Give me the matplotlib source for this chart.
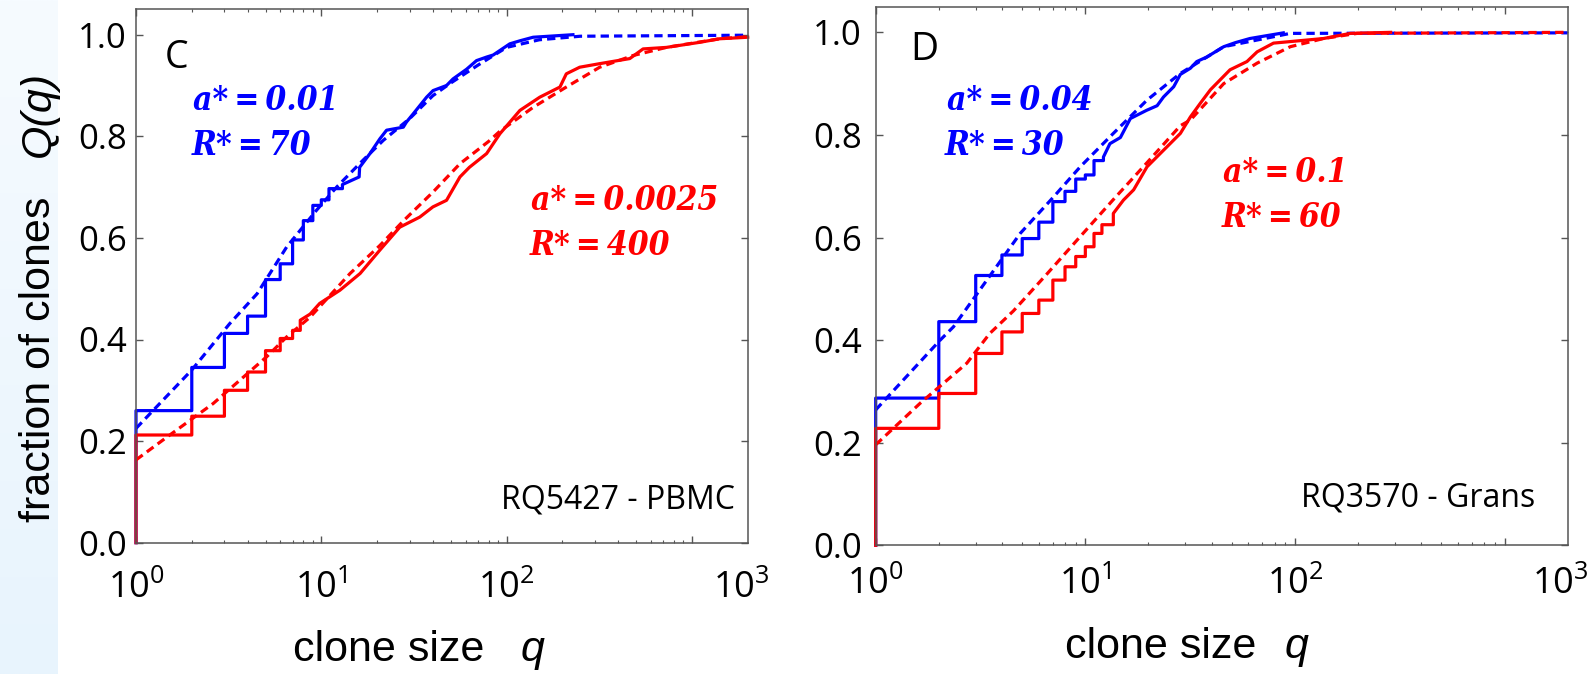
import numpy as np
import matplotlib
matplotlib.use("Agg")
import matplotlib.pyplot as plt
from matplotlib.colors import LinearSegmentedColormap
from matplotlib.ticker import FixedLocator, NullFormatter

plt.rcParams['font.family'] = ['Open Sans', 'DejaVu Sans']
plt.rcParams['mathtext.fontset'] = 'custom'
plt.rcParams['mathtext.rm'] = 'Open Sans'
plt.rcParams['mathtext.it'] = 'Open Sans:italic'
plt.rcParams['mathtext.bf'] = 'Open Sans:bold'

# ---------------- data ----------------
# Panel C (RQ5427 - PBMC): empirical Q(q) -- integer steps, then dense tail
c_blue_step_q = [1, 2, 3, 4, 5, 6, 7, 8, 9, 10, 11]
c_blue_step_Q = [0.26, 0.345, 0.412, 0.446, 0.518, 0.549, 0.596, 0.634, 0.664, 0.675, 0.697]
c_blue_tail_q = [13, 16, 16.1, 18.3, 20.7, 22.5, 27.7, 28.8, 31.3, 37, 40.1, 47.4, 51.4,
                 60.8, 68.8, 78, 84.6, 104, 118, 139, 228]
c_blue_tail_Q = [0.705, 0.72, 0.739, 0.766, 0.795, 0.812, 0.818, 0.828, 0.844, 0.877, 0.89,
                 0.9, 0.913, 0.932, 0.949, 0.956, 0.96, 0.982, 0.988, 0.995, 1.0]
c_blue_fit_q = [1, 2, 3.2, 4.5, 6.5, 9.4, 12.1, 16.8, 21.6, 30, 40, 50, 70, 100, 150, 250, 2000]
c_blue_fit_Q = [0.225, 0.34, 0.431, 0.49, 0.582, 0.654, 0.70, 0.753, 0.792, 0.835, 0.88,
                0.905, 0.94, 0.975, 0.99, 0.997, 0.999]

c_red_step_q = [1, 2, 3, 4, 5, 6, 7]
c_red_step_Q = [0.212, 0.249, 0.300, 0.336, 0.378, 0.402, 0.418]
c_red_tail_q = [7.7, 8.7, 9.8, 12.6, 16.2, 20.7, 26.5, 34, 40, 47.4, 56, 63, 78, 92, 118,
                151, 194, 210, 248, 318, 462, 545, 728, 1102, 1413, 2000]
c_red_tail_Q = [0.438, 0.45, 0.471, 0.497, 0.530, 0.576, 0.621, 0.641, 0.661, 0.674, 0.72,
                0.739, 0.766, 0.805, 0.851, 0.877, 0.897, 0.923, 0.936, 0.943, 0.953, 0.972,
                0.975, 0.985, 0.992, 0.995]
c_red_fit_q = [1, 1.47, 2.61, 5.07, 6.5, 8.7, 14.3, 20.7, 28, 40, 56, 80, 92, 139, 210, 318,
               481, 728, 1413, 2000]
c_red_fit_Q = [0.163, 0.208, 0.274, 0.366, 0.405, 0.444, 0.53, 0.585, 0.635, 0.69, 0.746,
               0.79, 0.81, 0.857, 0.897, 0.936, 0.959, 0.975, 0.992, 0.996]

# Panel D (RQ3570 - Grans)
d_blue_step_q = [1, 2, 3, 4, 5, 6, 7, 8, 9, 10, 11]
d_blue_step_Q = [0.287, 0.436, 0.526, 0.566, 0.598, 0.63, 0.67, 0.69, 0.714, 0.722, 0.75]
d_blue_tail_q = [12.2, 13.1, 14.7, 16.4, 19.6, 22, 23.6, 26.4, 28.4, 31.7, 34, 38, 45.7, 52,
                 61, 72, 88]
d_blue_tail_Q = [0.757, 0.783, 0.795, 0.832, 0.848, 0.857, 0.874, 0.894, 0.918, 0.93, 0.943,
                 0.952, 0.972, 0.98, 0.988, 0.993, 0.999]
d_blue_fit_q = [1, 2.03, 2.35, 3.39, 4.89, 7.05, 9.46, 13.6, 19.7, 28.4, 45.7, 95, 2000]
d_blue_fit_Q = [0.264, 0.40, 0.426, 0.517, 0.608, 0.679, 0.738, 0.803, 0.868, 0.92, 0.972,
                0.998, 0.999]

d_red_step_q = [1, 2, 3, 4, 5, 6, 7, 8, 9, 10, 11, 12]
d_red_step_Q = [0.228, 0.296, 0.374, 0.416, 0.452, 0.478, 0.517, 0.543, 0.563, 0.582, 0.608,
                0.625]
d_red_tail_q = [13.6, 15.2, 17, 19.7, 22.8, 28.4, 31.7, 35.4, 39.5, 49, 59, 66, 79, 137,
                184, 286]
d_red_tail_Q = [0.647, 0.673, 0.693, 0.738, 0.764, 0.803, 0.835, 0.862, 0.888, 0.927, 0.943,
                0.962, 0.979, 0.988, 0.998, 1.0]
d_red_fit_q = [1, 1.63, 2.72, 3.5, 4.54, 6.56, 9.46, 13.6, 19.7, 28.4, 31.7, 45.7, 66, 95,
               137, 198, 2000]
d_red_fit_Q = [0.196, 0.277, 0.355, 0.413, 0.457, 0.529, 0.602, 0.674, 0.746, 0.818, 0.829,
               0.9, 0.94, 0.972, 0.988, 0.998, 1.0]

y_ticks = [0.0, 0.2, 0.4, 0.6, 0.8, 1.0]
y_tick_labels = ['0.0', '0.2', '0.4', '0.6', '0.8', '1.0']
x_major = [1, 10, 100, 1000]
x_label_pos = [1, 10, 100, 1840]
x_labels = [r'$10^0$', r'$10^1$', r'$10^2$', r'$10^3$']
x_minor = [m * 10 ** k for k in range(3) for m in range(2, 10)]

W, H = 1593, 674
fig = plt.figure(figsize=(W / 100, H / 100), dpi=100)

# light blue strip on the left
axbg = fig.add_axes([0, 0, 58 / W, 1])
grad = np.linspace(0, 1, 256).reshape(-1, 1)
cmap = LinearSegmentedColormap.from_list('bg', ['#f6fbff', '#e8f4fd'])
axbg.imshow(grad, aspect='auto', cmap=cmap, extent=[0, 1, 0, 1], origin='upper')
axbg.set_axis_off()


def fpos(x, y):
    return x / W, 1 - y / H


def ecdf_vertices(sq, sQ, tq, tQ):
    xs, ys = [sq[0]], [0.0]
    for i, (q, Q) in enumerate(zip(sq, sQ)):
        nxt = sq[i + 1] if i + 1 < len(sq) else tq[0]
        xs += [q, nxt]
        ys += [Q, Q]
    return xs + list(tq), ys + list(tQ)


def setup(ax, label_base, ypad):
    ax.set_xscale('log')
    ax.set_xlim(1, 2000)
    ax.set_ylim(0, 1.05)
    ax.xaxis.set_major_locator(FixedLocator(x_major))
    ax.xaxis.set_major_formatter(NullFormatter())
    ax.xaxis.set_minor_locator(FixedLocator(x_minor))
    ax.xaxis.set_minor_formatter(NullFormatter())
    ax.set_yticks(y_ticks)
    ax.set_yticklabels(y_tick_labels)
    ax.tick_params(which='both', direction='in', top=True, right=True, color='#555555')
    ax.tick_params(which='major', length=5, width=1)
    ax.tick_params(which='minor', length=2.5, width=0.8)
    ax.tick_params(axis='y', which='major', labelsize=25, pad=ypad)
    for s in ax.spines.values():
        s.set_color('#555555')
        s.set_linewidth(1.1)
    for xp, lbl in zip(x_label_pos, x_labels):
        ax.annotate(lbl, xy=(xp, 0), xycoords=('data', 'axes fraction'),
                    xytext=(0, -label_base), textcoords='offset points',
                    ha='center', va='baseline', fontsize=26, annotation_clip=False)


lw = 2.3
dash = (2.6, 1.6)


def draw(ax, sq, sQ, tq, tQ, fq, fQ, color):
    xs, ys = ecdf_vertices(sq, sQ, tq, tQ)
    ax.plot(xs, ys, color=color, lw=lw, clip_on=False)
    ax.plot(fq, fQ, color=color, lw=lw, dashes=dash)


ax1 = fig.add_axes([136 / W, 1 - 542.7 / H, (747.7 - 136) / W, (542.7 - 9.3) / H])
setup(ax1, 39.5, 6.5)
draw(ax1, c_blue_step_q, c_blue_step_Q, c_blue_tail_q, c_blue_tail_Q,
     c_blue_fit_q, c_blue_fit_Q, 'blue')
draw(ax1, c_red_step_q, c_red_step_Q, c_red_tail_q, c_red_tail_Q,
     c_red_fit_q, c_red_fit_Q, 'red')

ax2 = fig.add_axes([875.7 / W, 1 - 545.3 / H, (1567.7 - 875.7) / W, (545.3 - 6.7) / H])
setup(ax2, 35, 10)
draw(ax2, d_blue_step_q, d_blue_step_Q, d_blue_tail_q, d_blue_tail_Q,
     d_blue_fit_q, d_blue_fit_Q, 'blue')
draw(ax2, d_red_step_q, d_red_step_Q, d_red_tail_q, d_red_tail_Q,
     d_red_fit_q, d_red_fit_Q, 'red')

# annotations
serif = dict(family='DejaVu Serif', weight='bold', style='italic', stretch='condensed',
             fontsize=24)
ts = '\u2009'
fig.text(*fpos(193, 110), f'a*{ts}={ts}0.01', color='blue', ha='left', va='baseline', **serif)
fig.text(*fpos(192, 155), f'R*{ts}={ts}70', color='blue', ha='left', va='baseline', **serif)
fig.text(*fpos(531, 210), f'a*{ts}={ts}0.0025', color='red', ha='left', va='baseline', **serif)
fig.text(*fpos(530, 255), f'R*{ts}={ts}400', color='red', ha='left', va='baseline', **serif)
fig.text(*fpos(947, 110), f'a*{ts}={ts}0.04', color='blue', ha='left', va='baseline', **serif)
fig.text(*fpos(945, 155), f'R*{ts}={ts}30', color='blue', ha='left', va='baseline', **serif)
fig.text(*fpos(1223, 182), f'a*{ts}={ts}0.1', color='red', ha='left', va='baseline', **serif)
fig.text(*fpos(1222, 227), f'R*{ts}={ts}60', color='red', ha='left', va='baseline', **serif)

fig.text(*fpos(165, 68), 'C', fontsize=27, ha='left', va='baseline')
fig.text(*fpos(910, 60), 'D', fontsize=28, ha='left', va='baseline')
fig.text(*fpos(735, 508), 'RQ5427 - PBMC', fontsize=23, ha='right', va='baseline')
fig.text(*fpos(1535, 507), 'RQ3570 - Grans', fontsize=23, ha='right', va='baseline')

# axis labels
lab = dict(family='Liberation Sans', fontsize=31)
fig.text(*fpos(293, 661), 'clone size', ha='left', va='baseline', **lab)
fig.text(*fpos(521, 661), 'q', ha='left', va='baseline', style='italic', **lab)
fig.text(*fpos(1065, 658), 'clone size', ha='left', va='baseline', **lab)
fig.text(*fpos(1285, 658), 'q', ha='left', va='baseline', style='italic', **lab)
fig.text(*fpos(50, 522), 'fraction of clones', rotation=90, rotation_mode='anchor',
         ha='left', va='baseline', **lab)
fig.text(*fpos(50, 157), 'Q(q)', rotation=90, rotation_mode='anchor',
         ha='left', va='baseline', style='italic', **lab)

fig.savefig('out.png', dpi=100)
